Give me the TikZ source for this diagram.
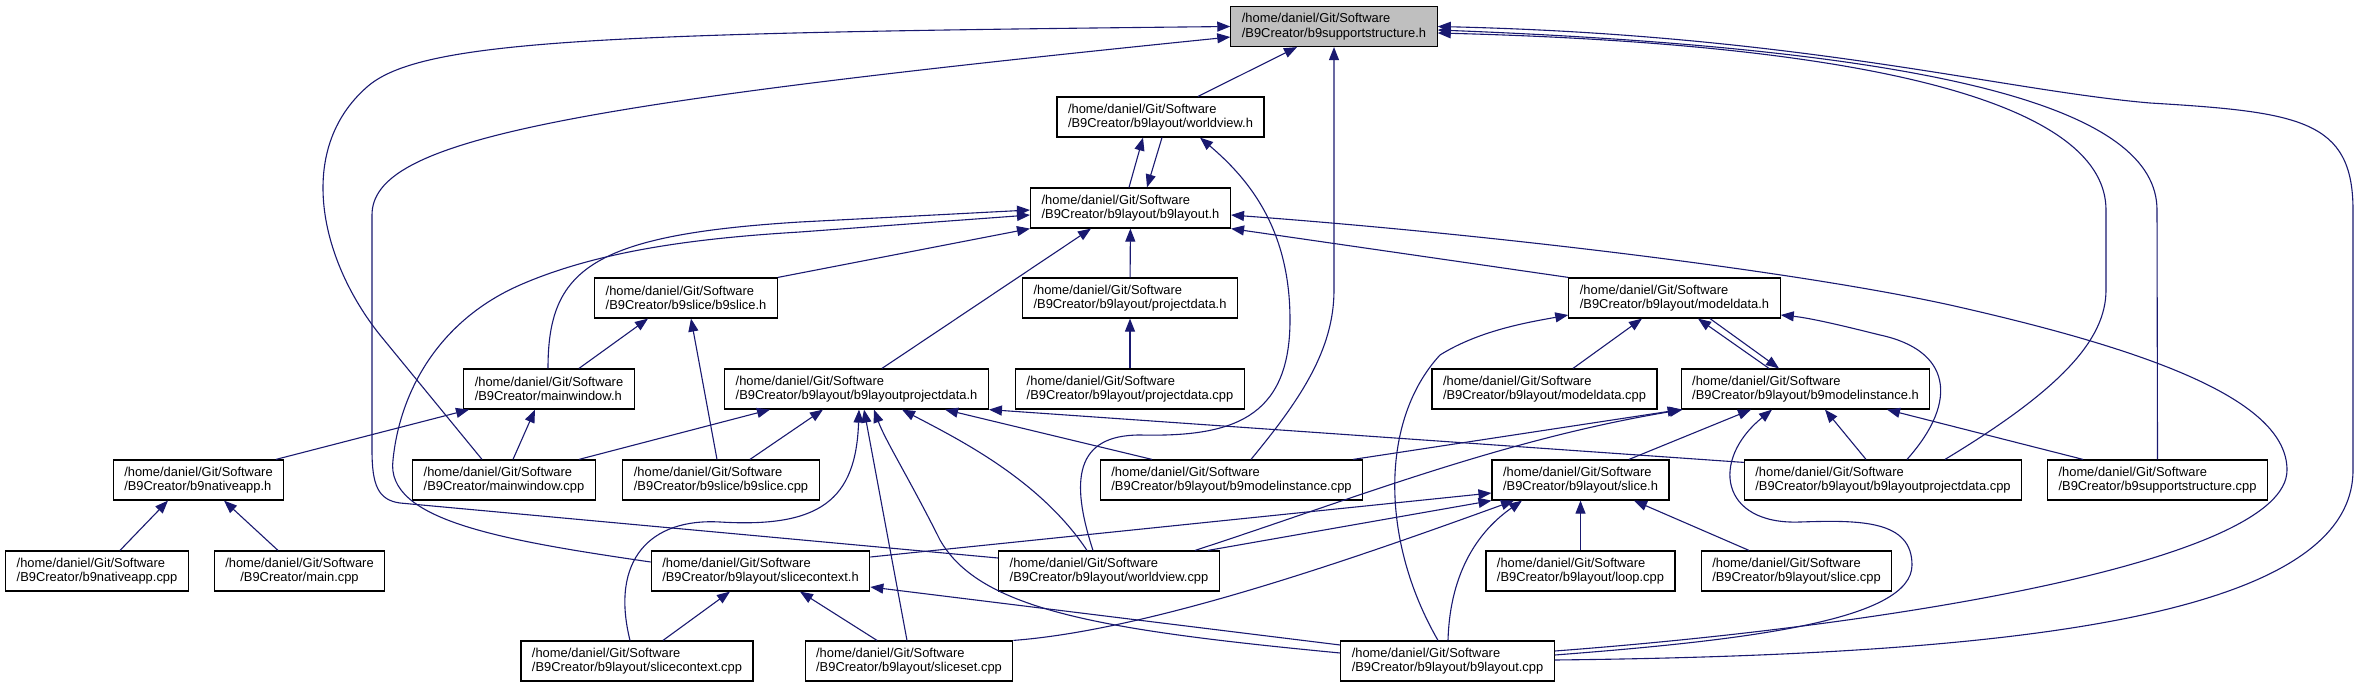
\documentclass[tikz,border=0pt]{standalone}
\usepackage{fontspec}
\setmainfont{Liberation Sans}
\usetikzlibrary{arrows.meta}
\definecolor{edgeblue}{HTML}{191970}
\definecolor{rootgray}{HTML}{BFBFBF}
\newcommand{\src}[5][]{\node[file,#1] (#2) at (#3,#4) {/home/daniel/Git/Software\\/B9Creator/#5}}

\begin{document}
\begin{tikzpicture}[x=1pt,y=-1pt,
  file/.style={draw,fill=white,line width=1.2pt,align=left,inner xsep=11pt,minimum height=40pt,
    font=\fontsize{12.9}{14.6}\selectfont},
  inc/.style={draw=edgeblue,line width=1.1pt,-{Triangle[length=13pt,width=10pt]}}]
\useasboundingbox (0,0) rectangle (2367,688);
	\src[fill=rootgray]{sstructh}{1334}{26.5}{b9supportstructure.h};
	\src{worldviewh}{1160.5}{117}{b9layout/worldview.h};
	\src{layouth}{1130.5}{208}{b9layout/b9layout.h};
	\src{b9sliceh}{686}{298}{b9slice/b9slice.h};
	\src{projectdatah}{1130}{298}{b9layout/projectdata.h};
	\src{modeldatah}{1674.5}{298}{b9layout/modeldata.h};
	\src{mainwindowh}{549}{389}{mainwindow.h};
	\src{lpdatah}{856.5}{389}{b9layout/b9layoutprojectdata.h};
	\src{projectdatacpp}{1130}{389}{b9layout/projectdata.cpp};
	\src{modeldatacpp}{1544.5}{389}{b9layout/modeldata.cpp};
	\src{minsth}{1805.5}{389}{b9layout/b9modelinstance.h};
	\src{nativeapph}{198.5}{480}{b9nativeapp.h};
	\src{mainwindowcpp}{504}{480}{mainwindow.cpp};
	\src{b9slicecpp}{721}{480}{b9slice/b9slice.cpp};
	\src{minstcpp}{1231.5}{480}{b9layout/b9modelinstance.cpp};
	\src{sliceh}{1580.5}{480}{b9layout/slice.h};
	\src{lpdatacpp}{1883}{480}{b9layout/b9layoutprojectdata.cpp};
	\src{sstructcpp}{2157.5}{480}{b9supportstructure.cpp};
	\src{nativeappcpp}{97}{571}{b9nativeapp.cpp};
	\src[align=center]{maincpp}{299.5}{571}{main.cpp};
	\src{slicecontexth}{760.5}{571}{b9layout/slicecontext.h};
	\src{worldviewcpp}{1109}{571}{b9layout/worldview.cpp};
	\src{loopcpp}{1580.5}{571}{b9layout/loop.cpp};
	\src{slicecpp}{1796.5}{571}{b9layout/slice.cpp};
	\src{slicecontextcpp}{637}{661}{b9layout/slicecontext.cpp};
	\src{slicesetcpp}{909}{661}{b9layout/sliceset.cpp};
	\src{layoutcpp}{1447.5}{661}{b9layout/b9layout.cpp};

	\draw[inc] ([xshift=37.5pt]worldviewh.north) -- ([xshift=-37pt]sstructh.south);
	\draw[inc] ([xshift=19.5pt]minstcpp.north) .. controls (1300,400) and (1334,350) .. (1334,290) -- (sstructh.south);
	\draw[inc] ([xshift=-22pt]mainwindowcpp.north) -- (380,335) .. controls (320,260) and (295,150) .. (367,87) .. controls (420,40) and (600,33) .. (sstructh.west);
	\draw[inc] ([yshift=13pt]worldviewcpp.west) -- (400,503) .. controls (378,500) and (372,485) .. (372,450) -- (372,215) .. controls (372,140) and (560,105) .. ([yshift=-10.5pt]sstructh.west);
	\draw[inc] ([yshift=1pt]layoutcpp.east) .. controls (2000,655) and (2353,620) .. (2353,470) -- (2353,210) .. controls (2353,120) and (2300,112) .. (2150,103) .. controls (2000,90) and (1800,35) .. (sstructh.east);
	\draw[inc] ([xshift=62pt]lpdatacpp.north) .. controls (2060,390) and (2106,340) .. (2106,290) -- (2106,210) .. controls (2106,110) and (1900,45) .. ([yshift=-6.5pt]sstructh.east);
	\draw[inc] (sstructcpp.north) -- (2157,210) .. controls (2157,110) and (1950,50) .. ([yshift=-3.5pt]sstructh.east);

	\draw[inc] ([xshift=-1.5pt]layouth.north) -- ([xshift=-17.5pt]worldviewh.south);
	\draw[inc] ([xshift=1.5pt]worldviewh.south) -- ([xshift=16.5pt]layouth.north);
	\draw[inc] ([xshift=-16pt]worldviewcpp.north) .. controls (1070,480) and (1075,435) .. (1140,435) .. controls (1230,437) and (1290,420) .. (1290,320) .. controls (1290,230) and (1250,180) .. ([xshift=39.5pt]worldviewh.south);

	\draw[inc] (projectdatah) -- (layouth);
	\draw[inc] (projectdatacpp) -- (projectdatah);
	\draw[inc] (b9sliceh.north east) -- (layouth.south west);
	\draw[inc] ([xshift=-1pt]mainwindowh.north) .. controls (548,270) and (590,235) .. (800,222) -- ([yshift=-2pt]layouth.west);
	\draw[inc] ([yshift=9pt]slicecontexth.west) .. controls (500,540) and (385,520) .. (393,460) .. controls (400,390) and (440,320) .. (520,285) .. controls (600,250) and (700,238) .. (800,232) -- ([yshift=-7pt]layouth.west);
	\draw[inc] ([xshift=25.5pt]lpdatah.north) -- ([xshift=-39.5pt]layouth.south);
	\draw[inc] (modeldatah.north west) -- (layouth.south east);
	\draw[inc] ([yshift=10pt]layoutcpp.east) .. controls (1900,625) and (2287,560) .. (2287,470) .. controls (2287,400) and (2150,350) .. (1950,305) .. controls (1800,272) and (1500,235) .. ([yshift=-7pt]layouth.east);

	\draw[inc] ([xshift=28.5pt]modeldatacpp.north) -- ([xshift=-32.5pt]modeldatah.south);
	\draw[inc] ([xshift=-9.5pt]layoutcpp.north) .. controls (1380,540) and (1380,420) .. (1440,355) .. controls (1480,330) and (1530,322) .. ([yshift=-17pt]modeldatah.west);
	\draw[inc] ([xshift=-36.5pt]minsth.north) -- ([xshift=23.5pt]modeldatah.south);
	\draw[inc] ([xshift=35.5pt]modeldatah.south) -- ([xshift=-26.5pt]minsth.north);
	\draw[inc] ([xshift=24pt]lpdatacpp.north) .. controls (1960,400) and (1950,350) .. (1880,335) .. controls (1840,325) and (1810,318) .. ([yshift=-17pt]modeldatah.east);

	\draw[inc] ([yshift=-3pt]lpdatacpp.north west) -- (lpdatah.south east);
	\draw[inc] ([xshift=-10pt]minstcpp.north east) -- (minsth.south west);
	\draw[inc] ([xshift=86pt]worldviewcpp.north) .. controls (1350,500) and (1500,440) .. ([xshift=2pt]minsth.south west);
	\draw[inc] ([xshift=48.5pt]sliceh.north) -- ([xshift=-54.5pt]minsth.south);
	\draw[inc] ([yshift=6pt]layoutcpp.east) .. controls (1750,640) and (1912,620) .. (1912,565) .. controls (1912,520) and (1860,520) .. (1800,522) .. controls (1720,525) and (1710,460) .. ([xshift=-33.5pt]minsth.south);
	\draw[inc] ([xshift=-17pt]lpdatacpp.north) -- ([xshift=19.5pt]minsth.south);
	\draw[inc] ([xshift=-74.5pt]sstructcpp.north) -- ([xshift=81.5pt]minsth.south);

	\draw[inc] ([xshift=75pt]mainwindowcpp.north) -- ([xshift=-86.5pt]lpdatah.south);
	\draw[inc] ([xshift=29pt]b9slicecpp.north) -- ([xshift=-33.5pt]lpdatah.south);
	\draw[inc] ([xshift=-7pt]slicecontextcpp.north) .. controls (610,560) and (650,518) .. (720,522) .. controls (820,528) and (856,500) .. ([xshift=2.5pt]lpdatah.south);
	\draw[inc] ([xshift=-2pt]slicesetcpp.north) -- ([xshift=7.5pt]lpdatah.south);
	\draw[inc] ([yshift=8pt]layoutcpp.west) .. controls (1100,630) and (980,610) .. (940,540) .. controls (910,480) and (885,440) .. ([xshift=17.5pt]lpdatah.south);
	\draw[inc] ([xshift=-22pt]worldviewcpp.north) .. controls (1040,480) and (960,440) .. ([xshift=45.5pt]lpdatah.south);
	\draw[inc] ([xshift=-79.5pt]minstcpp.north) -- ([xshift=88.5pt]lpdatah.south);

	\draw[inc] ([xshift=30pt]mainwindowh.north) -- ([xshift=-38pt]b9sliceh.south);
	\draw[inc] ([xshift=-4pt]b9slicecpp.north) -- ([xshift=5pt]b9sliceh.south);
	\draw[inc] ([xshift=77.5pt]nativeapph.north) -- ([xshift=-80pt]mainwindowh.south);
	\draw[inc] ([xshift=9pt]mainwindowcpp.north) -- ([xshift=-14pt]mainwindowh.south);
	\draw[inc] ([xshift=23pt]nativeappcpp.north) -- ([xshift=-30.5pt]nativeapph.south);
	\draw[inc] ([xshift=-21.5pt]maincpp.north) -- ([xshift=25.5pt]nativeapph.south);

	\draw[inc] ([xshift=26pt]slicecontextcpp.north) -- ([xshift=-30.5pt]slicecontexth.south);
	\draw[inc] ([xshift=-32pt]slicesetcpp.north) -- ([xshift=39.5pt]slicecontexth.south);
	\draw[inc] ([yshift=16pt]layoutcpp.west) -- ([yshift=-16pt]slicecontexth.east);

	\draw[inc] ([yshift=14pt]slicecontexth.east) -- ([yshift=-13pt]sliceh.west);
	\draw[inc] ([xshift=99pt]worldviewcpp.north) -- (sliceh.south west);
	\draw[inc] (slicesetcpp.north east) .. controls (1150,630) and (1350,560) .. ([xshift=-66.5pt]sliceh.south);
	\draw[inc] ([xshift=0.5pt]layoutcpp.north) .. controls (1450,570) and (1480,530) .. ([xshift=-58.5pt]sliceh.south);
	\draw[inc] (loopcpp) -- (sliceh);
	\draw[inc] ([xshift=-47.5pt]slicecpp.north) -- ([xshift=53.5pt]sliceh.south);
\end{tikzpicture}
\end{document}
